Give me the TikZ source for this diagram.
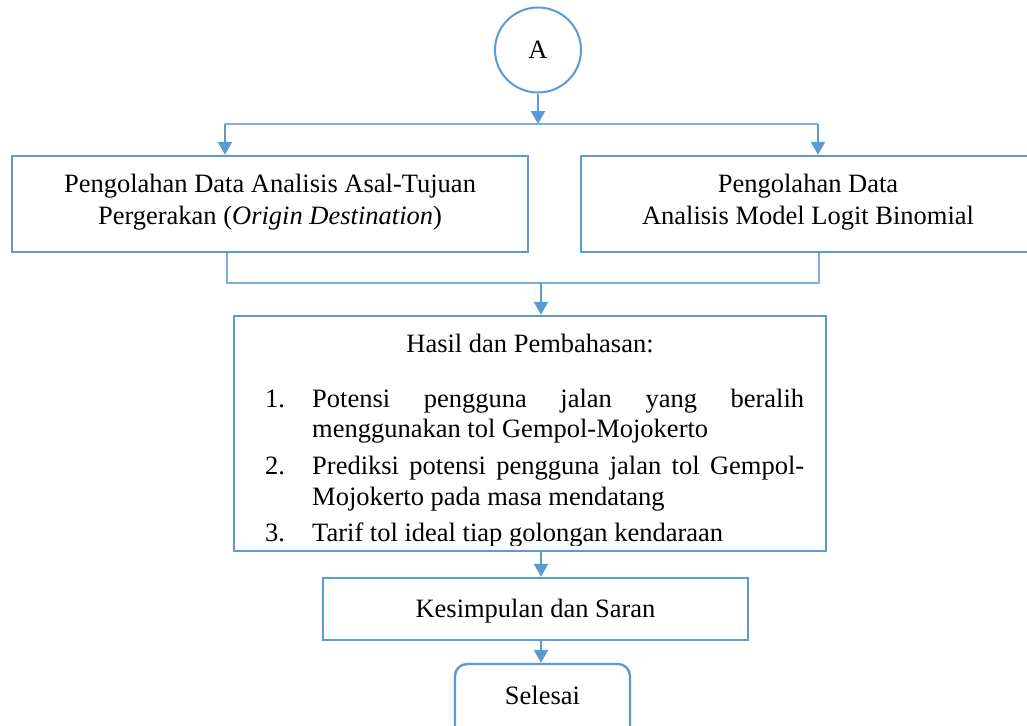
\documentclass[tikz,border=0pt]{standalone}
\usepackage{fontspec}
\setmainfont{Liberation Serif}
\usetikzlibrary{arrows.meta,shapes.geometric}
\definecolor{bl}{HTML}{5B9BD5}
\definecolor{blt}{HTML}{7DAFDF}
\tikzset{
  box/.style={draw=bl, line width=2.4pt, rectangle, inner sep=0pt},
  txt/.style={inner sep=0pt, font=\fontsize{26.5}{32}\selectfont},
  arr/.style={draw=bl, line width=2.2pt, -{Triangle[width=14pt,length=13pt]}},
  thin/.style={draw=blt, line width=1.5pt},
}
\begin{document}
\begin{tikzpicture}[x=1pt,y=-1pt]
\clip (0,0) rectangle (1027,725);
\fill[white] (0,0) rectangle (1027,725);
% start ellipse
\node[ellipse, draw=bl, line width=2pt, minimum width=86pt, minimum height=85pt, inner sep=0pt] (A) at (538,50) {};
\node[txt, anchor=base] (Atxt) at (538,59) {A};
% top boxes
\node[box, minimum width=516pt, minimum height=96pt] (L) at (270,204) {};
\node[box, minimum width=460pt, minimum height=96pt, anchor=west] (R) at (580,204) {};
\node[txt, anchor=base] (L1) at (270,192) {Pengolahan Data Analisis Asal-Tujuan};
\node[txt, anchor=base] (L2) at (270,224) {Pergerakan (\textit{Origin Destination})};
\node[txt, anchor=base] (R1) at (808,192) {Pengolahan Data};
\node[txt, anchor=base] (R2) at (808,224) {Analisis Model Logit Binomial};
% branch
\coordinate (bm) at (538,124);
\coordinate (bl) at (225,124);
\coordinate (br) at (818,124);
\draw[thin] (bl) -- (br);
\draw[arr] (A.south) -- (bm);
\draw[arr] (bl) -- (bl |- L.north);
\draw[arr] (br) -- (br |- R.north);
% merge
\coordinate (ml) at (227,283);
\coordinate (mr) at (819,283);
\coordinate (mm) at (541,283);
\draw[thin] (ml |- L.south) -- (ml) -- (mr) -- (mr |- R.south);
% hasil box
\node[box, minimum width=592pt, minimum height=235pt] (H) at (530,433.5) {};
\draw[arr] (mm) -- (mm |- H.north);
\node[txt, anchor=base] (Ht) at (530,352) {Hasil dan Pembahasan:};
\begin{scope}
\clip (236,318) rectangle (824,545);
\node[txt, anchor=base west] (n1) at (265,407) {1.};
\node[txt, anchor=base west] (t1) at (312,407) {\makebox[492pt][s]{Potensi pengguna jalan yang beralih}};
\node[txt, anchor=base west] (t1b) at (312,437) {menggunakan tol Gempol-Mojokerto};
\node[txt, anchor=base west] (n2) at (265,474) {2.};
\node[txt, anchor=base west] (t2) at (312,474) {\makebox[492pt][s]{Prediksi potensi pengguna jalan tol Gempol-}};
\node[txt, anchor=base west] (t2b) at (312,505) {Mojokerto pada masa mendatang};
\node[txt, anchor=base west] (n3) at (265,541) {3.};
\node[txt, anchor=base west] (t3) at (312,541) {Tarif tol ideal tiap golongan kendaraan};
\end{scope}
% kesimpulan
\node[box, minimum width=425pt, minimum height=62pt] (K) at (535.5,609) {};
\node[txt, anchor=base] (Kt) at (535.5,617) {Kesimpulan dan Saran};
\draw[arr] (H.south -| mm) -- (K.north -| mm);
% selesai
\node[box, rounded corners=12pt, minimum width=175pt, minimum height=80pt] (S) at (542.5,704) {};
\node[txt, anchor=base] (St) at (542.5,704) {Selesai};
\draw[arr] (K.south -| mm) -- (S.north -| mm);
\end{tikzpicture}
\end{document}
